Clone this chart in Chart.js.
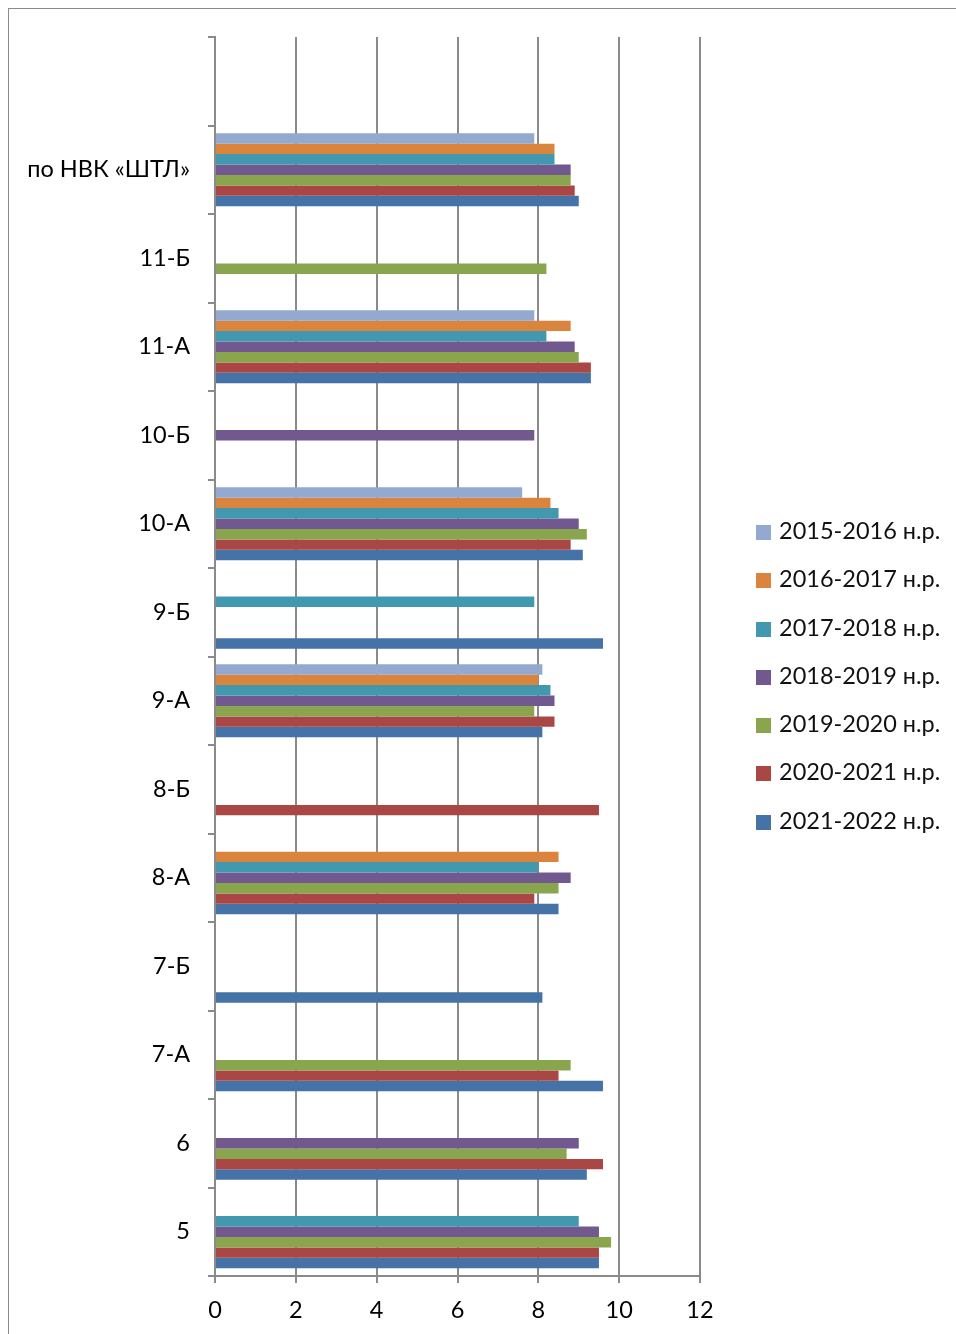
<!DOCTYPE html>
<html>
<head>
<meta charset="utf-8">
<script src="https://cdn.jsdelivr.net/npm/chart.js@4.4.0/dist/chart.umd.min.js"></script>
<style>
  html, body { margin: 0; padding: 0; background: #fff; }
  #wrap { position: relative; width: 956px; height: 1334px; overflow: hidden; }
  #frame { position: absolute; left: 8px; top: 8px; right: -2px; bottom: -2px;
    border-top: 1px solid #8a8a8a; border-left: 1px solid #8a8a8a; }
  #legend { position: absolute; left: 756px; top: 518px; font-family: Lato, sans-serif;
    font-size: 23.5px; color: #111; }
  #legend div { height: 48.3px; line-height: 24px; white-space: nowrap; }
  #legend span.box { display: inline-block; width: 15px; height: 15px; margin-right: 8px; vertical-align: -1px; }
</style>
</head>
<body>
<div id="wrap">
  <div id="frame"></div>
  <canvas id="c" width="956" height="1334"></canvas>
  <div id="legend"></div>
</div>
<script>
// ---------- Data ----------
const categories = ['', 'по НВК «ШТЛ»', '11-Б', '11-А', '10-Б', '10-А', '9-Б', '9-А', '8-Б', '8-А', '7-Б', '7-А', '6', '5'];
const seriesNames = ['2015-2016 н.р.', '2016-2017 н.р.', '2017-2018 н.р.', '2018-2019 н.р.', '2019-2020 н.р.', '2020-2021 н.р.', '2021-2022 н.р.'];
const s2015 = [null, 7.9, null, 7.9, null, 7.6, null, 8.1, null, null, null, null, null, null];
const s2016 = [null, 8.4, null, 8.8, null, 8.3, null, 8.0, null, 8.5, null, null, null, null];
const s2017 = [null, 8.4, null, 8.2, null, 8.5, 7.9, 8.3, null, 8.0, null, null, null, 9.0];
const s2018 = [null, 8.8, null, 8.9, 7.9, 9.0, null, 8.4, null, 8.8, null, null, 9.0, 9.5];
const s2019 = [null, 8.8, 8.2, 9.0, null, 9.2, null, 7.9, null, 8.5, null, 8.8, 8.7, 9.8];
const s2020 = [null, 8.9, null, 9.3, null, 8.8, null, 8.4, 9.5, 7.9, null, 8.5, 9.6, 9.5];
const s2021 = [null, 9.0, null, 9.3, null, 9.1, 9.6, 8.1, null, 8.5, 8.1, 9.6, 9.2, 9.5];
const xTicks = [0, 2, 4, 6, 8, 10, 12];

const colors = ['#93A9CF', '#DB843D', '#4298AF', '#71588F', '#89A54E', '#AA4643', '#4572A7'];
const allSeries = [s2015, s2016, s2017, s2018, s2019, s2020, s2021];

const FONT = 'Lato, sans-serif';
const GRID = '#8a8a8a';

// ---------- Chart ----------
new Chart(document.getElementById('c'), {
  type: 'bar',
  data: {
    labels: categories,
    datasets: allSeries.map((d, i) => ({
      label: seriesNames[i],
      data: d,
      backgroundColor: colors[i],
      borderWidth: 0,
      barPercentage: 1,
      categoryPercentage: 0.825
    }))
  },
  options: {
    indexAxis: 'y',
    responsive: false,
    animation: false,
    layout: { padding: { top: 37, right: 256, left: 0, bottom: 0 } },
    plugins: { legend: { display: false }, tooltip: { enabled: false } },
    scales: {
      x: {
        min: xTicks[0],
        max: xTicks[xTicks.length - 1],
        afterBuildTicks: (s) => { s.ticks = xTicks.map((v) => ({ value: v })); },
        afterFit: (s) => { s.height = 58; },
        border: { color: GRID, width: 2 },
        grid: { color: GRID, lineWidth: 2, tickLength: 7, tickColor: GRID },
        ticks: { color: '#000', font: { family: FONT, size: 23.5 }, padding: 13 }
      },
      y: {
        afterFit: (s) => { s.width = 215; },
        border: { color: GRID, width: 2 },
        grid: { drawOnChartArea: false, tickLength: 7, tickColor: GRID, lineWidth: 2, offset: true },
        ticks: { color: '#000', font: { family: FONT, size: 23.5 }, padding: 18, autoSkip: false }
      }
    }
  }
});

// ---------- Legend ----------
const elLegend = document.getElementById('legend');
seriesNames.forEach((name, i) => {
  const row = document.createElement('div');
  row.innerHTML = `<span class="box" style="background:${colors[i]}"></span>${name}`;
  elLegend.appendChild(row);
});
</script>
</body>
</html>
